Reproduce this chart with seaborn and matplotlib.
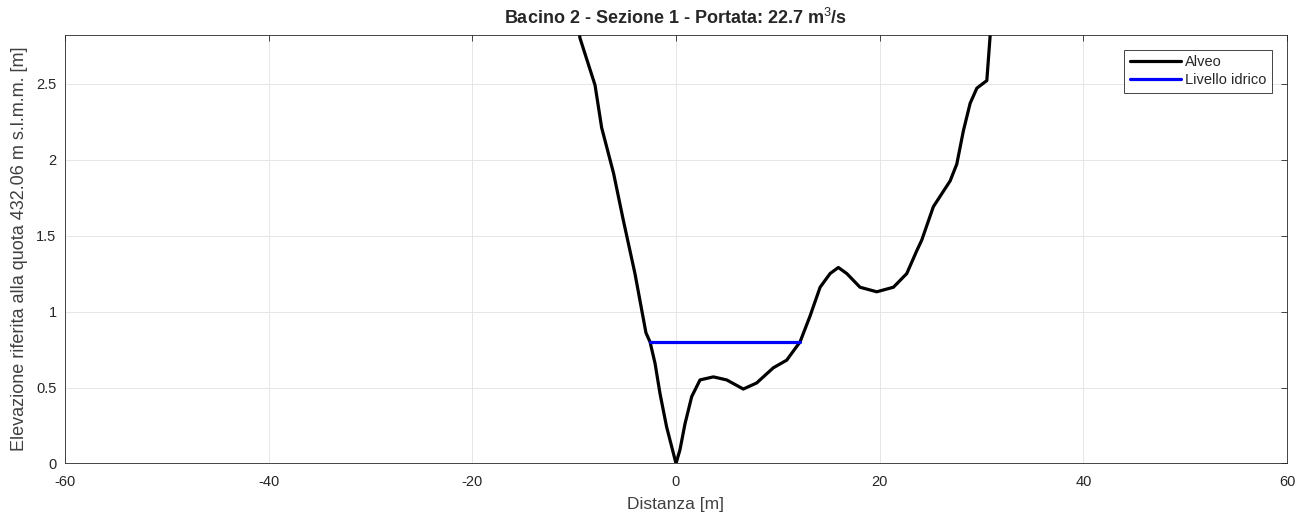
import matplotlib
matplotlib.use("Agg")
import matplotlib.pyplot as plt
import seaborn as sns
import pandas as pd

# Bed profile (Alveo)
dist = [-9.8, -9.43, -7.95, -7.30, -6.13, -5.17, -4.03, -2.95, -2.55, -2.06, -1.57,
        -0.92, -0.42, 0.0, 0.39, 0.88, 1.54, 2.36, 3.67, 4.98, 6.61, 7.92, 9.56,
        10.87, 11.85, 12.18, 13.16, 14.15, 15.13, 15.94, 16.77, 18.07, 19.71, 21.35,
        22.66, 23.64, 24.13, 25.27, 26.92, 27.57, 28.22, 28.88, 29.54, 30.52,
        30.84, 30.95]
elev = [3.00, 2.80, 2.49, 2.21, 1.91, 1.60, 1.25, 0.86, 0.80, 0.66, 0.46,
        0.24, 0.11, 0.00, 0.09, 0.26, 0.44, 0.55, 0.57, 0.55, 0.49, 0.53, 0.63,
        0.68, 0.77, 0.80, 0.97, 1.16, 1.25, 1.29, 1.25, 1.16, 1.13, 1.16,
        1.25, 1.40, 1.47, 1.69, 1.86, 1.97, 2.19, 2.37, 2.47, 2.52,
        2.81, 3.00]

# Water level (Livello idrico)
water_x = [-2.55, 12.18]
water_y = [0.80, 0.80]

title = "Bacino 2 - Sezione 1 - Portata: 22.7 m$^3$/s"
xlabel = "Distanza [m]"
ylabel = "Elevazione riferita alla quota 432.06 m s.l.m.m. [m]"
xticks = [-60, -40, -20, 0, 20, 40, 60]
yticks = [0, 0.5, 1, 1.5, 2, 2.5]
ytick_labels = ["0", "0.5", "1", "1.5", "2", "2.5"]

sns.set_style("whitegrid")
plt.rcParams['font.family'] = ['Liberation Sans', 'DejaVu Sans']
plt.rcParams['axes.unicode_minus'] = False
plt.rcParams['mathtext.fontset'] = 'custom'
plt.rcParams['mathtext.rm'] = 'Liberation Sans'
plt.rcParams['mathtext.bf'] = 'Liberation Sans:bold'

fig = plt.figure(figsize=(12.99, 5.17), dpi=100)
ax = fig.add_axes([0.050, 0.1035, 0.9408, 0.8288])

bed = pd.DataFrame({"x": dist, "y": elev})
wat = pd.DataFrame({"x": water_x, "y": water_y})
sns.lineplot(data=bed, x="x", y="y", ax=ax, color="black", linewidth=2.3,
             sort=False, label="Alveo")
sns.lineplot(data=wat, x="x", y="y", ax=ax, color="#0000ff", linewidth=2.3,
             sort=False, label="Livello idrico")

ax.set_xlim(-60, 60)
ax.set_ylim(0, 2.82)
ax.set_xticks(xticks)
ax.set_yticks(yticks)
ax.set_yticklabels(ytick_labels)
ax.tick_params(axis="both", labelsize=10.5, colors="#262626", direction="in",
               length=4, width=0.6, top=True, right=True)
ax.tick_params(axis="x", pad=8)
ax.tick_params(axis="y", pad=6)
ax.grid(True, color="#e6e6e6", linewidth=0.7)
for s in ax.spines.values():
    s.set_color("#262626")
    s.set_linewidth(0.6)

ax.set_title(title, fontsize=13, fontweight="bold", pad=8)
ax.set_xlabel(xlabel, fontsize=12.5, color="#404040", labelpad=6)
ax.set_ylabel(ylabel, fontsize=13, color="#404040", labelpad=6)

leg = ax.legend(loc="upper right", fontsize=10.5, frameon=True, fancybox=False,
                edgecolor="#262626", framealpha=1, handlelength=3.5,
                borderaxespad=1.0, labelspacing=0.25, handletextpad=0.3,
                borderpad=0.4)
leg.get_frame().set_linewidth(0.6)

fig.savefig("out.png", dpi=100)
